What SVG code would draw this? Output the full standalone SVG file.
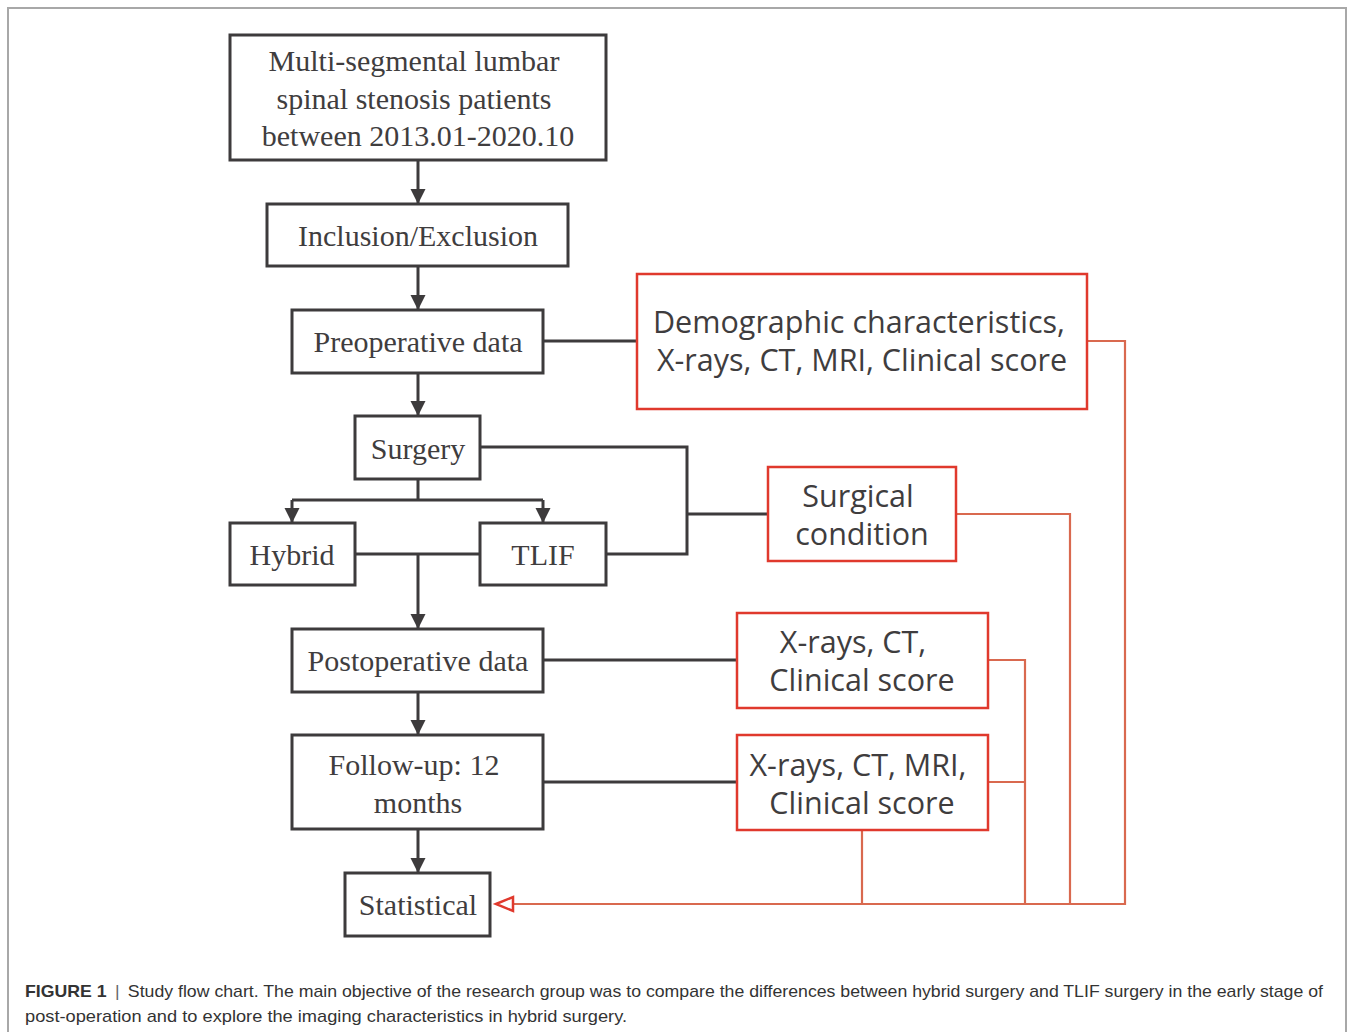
<svg xmlns="http://www.w3.org/2000/svg" width="1349" height="1032" viewBox="0 0 1349 1032">
<defs>
<style>
.box{fill:#fff;stroke:#3d3b3c;stroke-width:3}
.rbox{fill:#fff;stroke:#e0392d;stroke-width:2.5}
.st{font-family:"Liberation Serif","Times New Roman",serif;font-size:30px;fill:#3f3d3e;text-anchor:middle}
.ss{font-family:"Open Sans","Noto Sans",sans-serif;font-size:30.5px;fill:#3f3d3e;text-anchor:middle}
.c{fill:none;stroke:#3d3b3c;stroke-width:3}
.r{fill:none;stroke:#d9694f;stroke-width:2.2}
.cap{font-family:"Liberation Sans",Arial,sans-serif;font-size:17px;fill:#333}
</style>
<marker id="ah" markerWidth="16" markerHeight="16" refX="15" refY="7.5" orient="auto" markerUnits="userSpaceOnUse" viewBox="0 0 16 15">
<path d="M0,0 L15,7.5 L0,15 Z" fill="#3d3b3c"/>
</marker>
</defs>
<rect x="8" y="8" width="1338" height="1040" fill="none" stroke="#a8a8a8" stroke-width="2"/>

<g id="connectors">
<path class="c" d="M418,160 V204" marker-end="url(#ah)"/>
<path class="c" d="M418,266 V310" marker-end="url(#ah)"/>
<path class="c" d="M418,373 V416" marker-end="url(#ah)"/>
<path class="c" d="M418,479 V500"/>
<path class="c" d="M292,500 H543"/>
<path class="c" d="M292,500 V523" marker-end="url(#ah)"/>
<path class="c" d="M543,500 V523" marker-end="url(#ah)"/>
<path class="c" d="M355,554 H480"/>
<path class="c" d="M418,554 V629" marker-end="url(#ah)"/>
<path class="c" d="M418,692 V735" marker-end="url(#ah)"/>
<path class="c" d="M418,829 V873" marker-end="url(#ah)"/>
<path class="c" d="M543,341 H637"/>
<path class="c" d="M480,447 H687 V554 H606"/>
<path class="c" d="M687,514 H768"/>
<path class="c" d="M543,660 H737"/>
<path class="c" d="M543,782 H737"/>
<path class="r" d="M1087,341 H1125 V904 H512"/>
<path class="r" d="M956,514 H1070 V904"/>
<path class="r" d="M988,660 H1025 V904"/>
<path class="r" d="M988,782 H1025"/>
<path class="r" d="M862,830 V904"/>
<path d="M496,904 L513,897 L513,911 Z" fill="#fff" stroke="#e0392d" stroke-width="2.5"/>
</g>

<g id="n1"><rect class="box" x="230" y="35" width="376" height="125"/>
<text class="st" x="414" y="71">Multi-segmental lumbar</text>
<text class="st" x="414" y="109">spinal stenosis patients</text>
<text class="st" x="418" y="146">between 2013.01-2020.10</text></g>
<g id="n2"><rect class="box" x="267" y="204" width="301" height="62"/>
<text class="st" x="418" y="246">Inclusion/Exclusion</text></g>
<g id="n3"><rect class="box" x="292" y="310" width="251" height="63"/>
<text class="st" x="418" y="352">Preoperative data</text></g>
<g id="n4"><rect class="box" x="355" y="416" width="125" height="63"/>
<text class="st" x="418" y="459">Surgery</text></g>
<g id="n5"><rect class="box" x="230" y="523" width="125" height="62"/>
<text class="st" x="292" y="565">Hybrid</text></g>
<g id="n6"><rect class="box" x="480" y="523" width="126" height="62"/>
<text class="st" x="543" y="565">TLIF</text></g>
<g id="n7"><rect class="box" x="292" y="629" width="251" height="63"/>
<text class="st" x="418" y="671">Postoperative data</text></g>
<g id="n8"><rect class="box" x="292" y="735" width="251" height="94"/>
<text class="st" x="414" y="775">Follow-up: 12</text>
<text class="st" x="418" y="813">months</text></g>
<g id="n9"><rect class="box" x="345" y="873" width="145" height="63"/>
<text class="st" x="418" y="915">Statistical</text></g>

<g id="r1"><rect class="rbox" x="637" y="274" width="450" height="135"/>
<text class="ss" x="859" y="333">Demographic characteristics,</text>
<text class="ss" x="862" y="371">X-rays, CT, MRI, Clinical score</text></g>
<g id="r2"><rect class="rbox" x="768" y="467" width="188" height="94"/>
<text class="ss" x="858" y="507">Surgical</text>
<text class="ss" x="862" y="545">condition</text></g>
<g id="r3"><rect class="rbox" x="737" y="613" width="251" height="95"/>
<text class="ss" x="853" y="653">X-rays, CT,</text>
<text class="ss" x="862" y="691">Clinical score</text></g>
<g id="r4"><rect class="rbox" x="737" y="735" width="251" height="95"/>
<text class="ss" x="858" y="776">X-rays, CT, MRI,</text>
<text class="ss" x="862" y="814">Clinical score</text></g>

<text class="cap" x="25" y="997" textLength="1298" lengthAdjust="spacingAndGlyphs"><tspan font-weight="bold">FIGURE 1</tspan><tspan fill="#666" dx="8">|</tspan><tspan dx="8">Study flow chart. The main objective of the research group was to compare the differences between hybrid surgery and TLIF surgery in the early stage of</tspan></text>
<text class="cap" x="25" y="1022" textLength="602" lengthAdjust="spacingAndGlyphs">post-operation and to explore the imaging characteristics in hybrid surgery.</text>
</svg>
